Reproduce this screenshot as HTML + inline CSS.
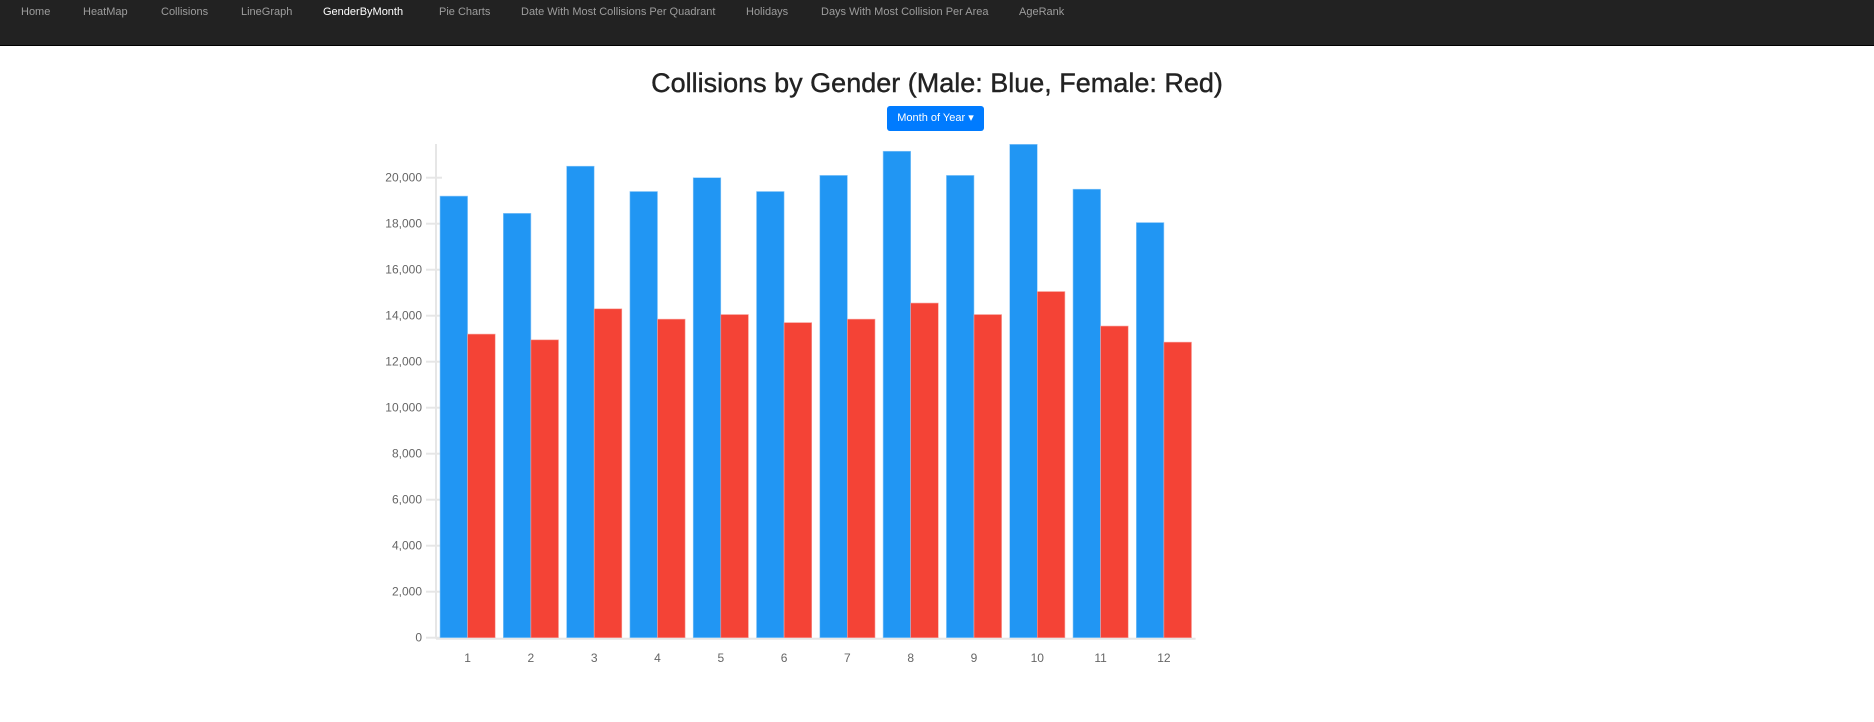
<!DOCTYPE html>
<html><head><meta charset="utf-8"><style>
body{margin:0;width:1874px;height:722px;background:#fff;font-family:"Liberation Sans",sans-serif;overflow:hidden;position:relative}
.nav{position:absolute;left:0;top:0;width:1874px;height:45px;background:#222;border-bottom:1px solid #000}
.nav span{position:absolute;top:6px;font-size:11px;color:#9d9d9d}
h1{position:absolute;top:68px;left:0;width:1874px;text-align:center;margin:0;font-size:27px;font-weight:normal;color:#222;-webkit-text-stroke:0.4px #222}
.btn{position:absolute;left:887px;top:106px;width:97px;height:25px;background:#007bff;border-radius:3px;color:#fff;font-size:11px;line-height:25px;text-align:center}
</style></head><body>
<div class="nav">
<span style="left:21px">Home</span>
<span style="left:83px">HeatMap</span>
<span style="left:161px">Collisions</span>
<span style="left:241px">LineGraph</span>
<span style="left:323px;color:#fff">GenderByMonth</span>
<span style="left:439px">Pie Charts</span>
<span style="left:521px">Date With Most Collisions Per Quadrant</span>
<span style="left:746px">Holidays</span>
<span style="left:821px">Days With Most Collision Per Area</span>
<span style="left:1019px">AgeRank</span>
</div>
<h1>Collisions by Gender (Male: Blue, Female: Red)</h1>
<div class="btn">Month of Year ▾</div>
<svg id="chart" width="1874" height="722" style="position:absolute;left:0;top:0"></svg>
<script>
const categories=["1","2","3","4","5","6","7","8","9","10","11","12"];
const maleValues=[19200,18450,20500,19400,20000,19400,20100,21150,20100,21450,19500,18050];
const femaleValues=[13200,12950,14300,13850,14050,13700,13850,14550,14050,15050,13550,12850];
const yTicks=[0,2000,4000,6000,8000,10000,12000,14000,16000,18000,20000];
const svg=document.getElementById('chart');
const NS='http://www.w3.org/2000/svg';
const x0=436,groupW=63.3,y0=637.7,pxPer=460/20000,plotTop=144;
const y=v=>y0-v*pxPer;
function mk(t,a){const e=document.createElementNS(NS,t);for(const k in a)e.setAttribute(k,a[k]);svg.appendChild(e);return e;}
const ax=mk('line',{x1:x0,y1:plotTop,x2:x0,y2:y0+1,stroke:'#e6e6e6','stroke-width':2});


const bx=mk('line',{x1:x0,y1:y0+1,x2:x0+groupW*12,y2:y0+1,stroke:'#e6e6e6','stroke-width':2});


yTicks.forEach(v=>{
 mk('line',{x1:x0-10,y1:y(v),x2:x0+6,y2:y(v),stroke:'#e6e6e6','stroke-width':2});
 const t=mk('text',{x:x0-14,y:y(v)+4,'text-anchor':'end','font-size':12,fill:'#666','font-family':'Liberation Sans, sans-serif'});
 t.textContent=v.toLocaleString('en-US');
 
 
});
categories.forEach((c,i)=>{
 const gx=x0+i*groupW+4;
 const bw=27.6;
 const m=mk('rect',{x:gx,y:y(maleValues[i]),width:bw,height:y0-y(maleValues[i]),fill:'#2196f3',stroke:'#90caf9','stroke-width':0.6});
 
 
 const f=mk('rect',{x:gx+bw,y:y(femaleValues[i]),width:bw,height:y0-y(femaleValues[i]),fill:'#f44336',stroke:'#f8a09a','stroke-width':0.6});
 
 
 const t=mk('text',{x:gx+bw,y:662,'text-anchor':'middle','font-size':12,fill:'#666','font-family':'Liberation Sans, sans-serif'});
 t.textContent=c;
 
 
});
</script>
</body></html>
